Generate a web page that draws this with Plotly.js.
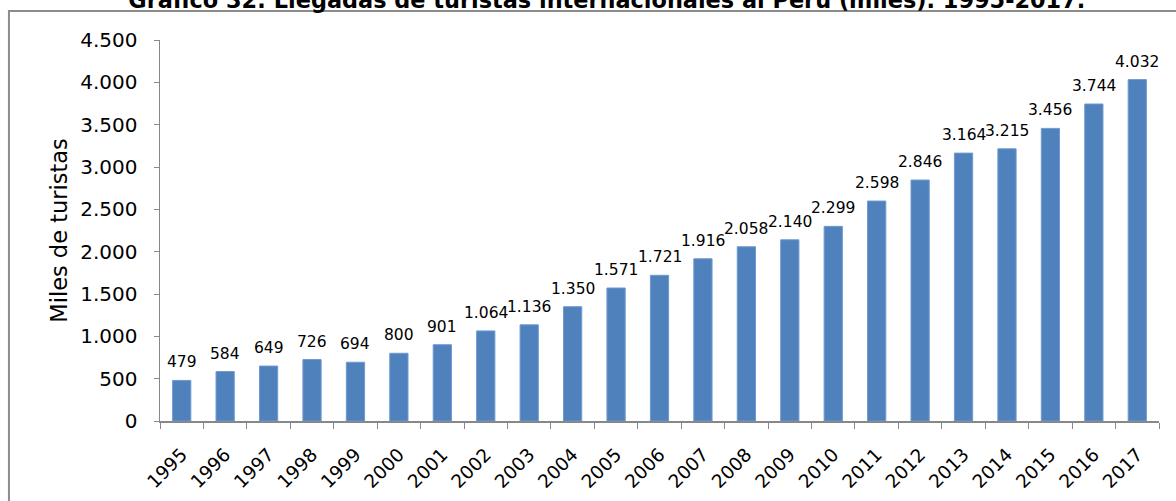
<!DOCTYPE html>
<html>
<head>
<meta charset="utf-8">
<script src="https://cdn.plot.ly/plotly-3.0.1.min.js"></script>
<style>
  body { margin: 0; background: #fff; }
  #plot { width: 1176px; height: 501px; }
</style>
</head>
<body>
<div id="plot"></div>
<script>
// llegadas de turistas internacionales (miles)
var years = ["1995", "1996", "1997", "1998", "1999", "2000", "2001", "2002", "2003", "2004", "2005", "2006",
             "2007", "2008", "2009", "2010", "2011", "2012", "2013", "2014", "2015", "2016", "2017"];
var arrivals = [479, 584, 649, 726, 694, 800, 901, 1064, 1136, 1350, 1571, 1721,
                1916, 2058, 2140, 2299, 2598, 2846, 3164, 3215, 3456, 3744, 4032];
var yTicks = [0, 500, 1000, 1500, 2000, 2500, 3000, 3500, 4000, 4500];

var trace1 = {
    x: years,
    y: arrivals,
    type: "bar",
    marker: {
        color: "#4F81BD",
        line: { color: "#6F9AD0", width: 1 }
    },
    hoverinfo: "none"
};

// etiquetas de datos encima de cada barra (x = indice de categoria)
var labels = arrivals.map(function (v, i) {
    return {
        x: i,
        y: v,
        xref: "x",
        yref: "y",
        text: v.toLocaleString("de-DE"),
        showarrow: false,
        yanchor: "bottom",
        yshift: 7,
        font: { family: "DejaVu Sans", size: 15.5, color: "#000" }
    };
});

var layout = {
    width: 1176,
    height: 501,
    separators: ",.",
    margin: { l: 160, r: 17, t: 40, b: 80 },
    paper_bgcolor: "#fff",
    plot_bgcolor: "#fff",
    showlegend: false,
    bargap: 0.58,
    font: { family: "DejaVu Sans", color: "#000" },
    title: {
        text: "<b>Gráfico 32: Llegadas de turistas internacionales al Perú (miles). 1995-2017.</b>",
        font: { family: "DejaVu Sans", size: 22.4, color: "#000" },
        xref: "container",
        yref: "container",
        x: 0.516,
        xanchor: "center",
        y: 1,
        yanchor: "middle"
    },
    xaxis: {
        type: "category",
        range: [-0.5, years.length - 0.5],
        tickangle: -45,
        tickson: "boundaries",
        ticks: "outside",
        ticklen: 6,
        tickcolor: "#888",
        showline: true,
        linecolor: "#888",
        linewidth: 1.5,
        showgrid: false,
        ticklabelstandoff: 14,
        tickfont: { family: "DejaVu Sans", size: 18.5, color: "#000" }
    },
    yaxis: {
        range: [0, 4500],
        tickvals: yTicks,
        tickformat: ",d",
        ticks: "outside",
        ticklen: 5,
        tickcolor: "#888",
        showline: true,
        linecolor: "#888",
        linewidth: 1.5,
        showgrid: false,
        zeroline: false,
        ticklabelstandoff: 12,
        tickfont: { family: "DejaVu Sans", size: 20, color: "#000" },
        title: {
            text: "Miles de turistas",
            font: { family: "DejaVu Sans", size: 22.5, color: "#000" },
            standoff: 6
        }
    },
    annotations: labels,
    shapes: [{
        type: "rect",
        xref: "paper",
        yref: "paper",
        x0: -0.1512, x1: 1.05,
        y0: -0.3, y1: 1.0761,
        line: { color: "#8c8c8c", width: 2 },
        layer: "below"
    }]
};

Plotly.newPlot("plot", [trace1], layout, { staticPlot: true });
</script>
</body>
</html>
